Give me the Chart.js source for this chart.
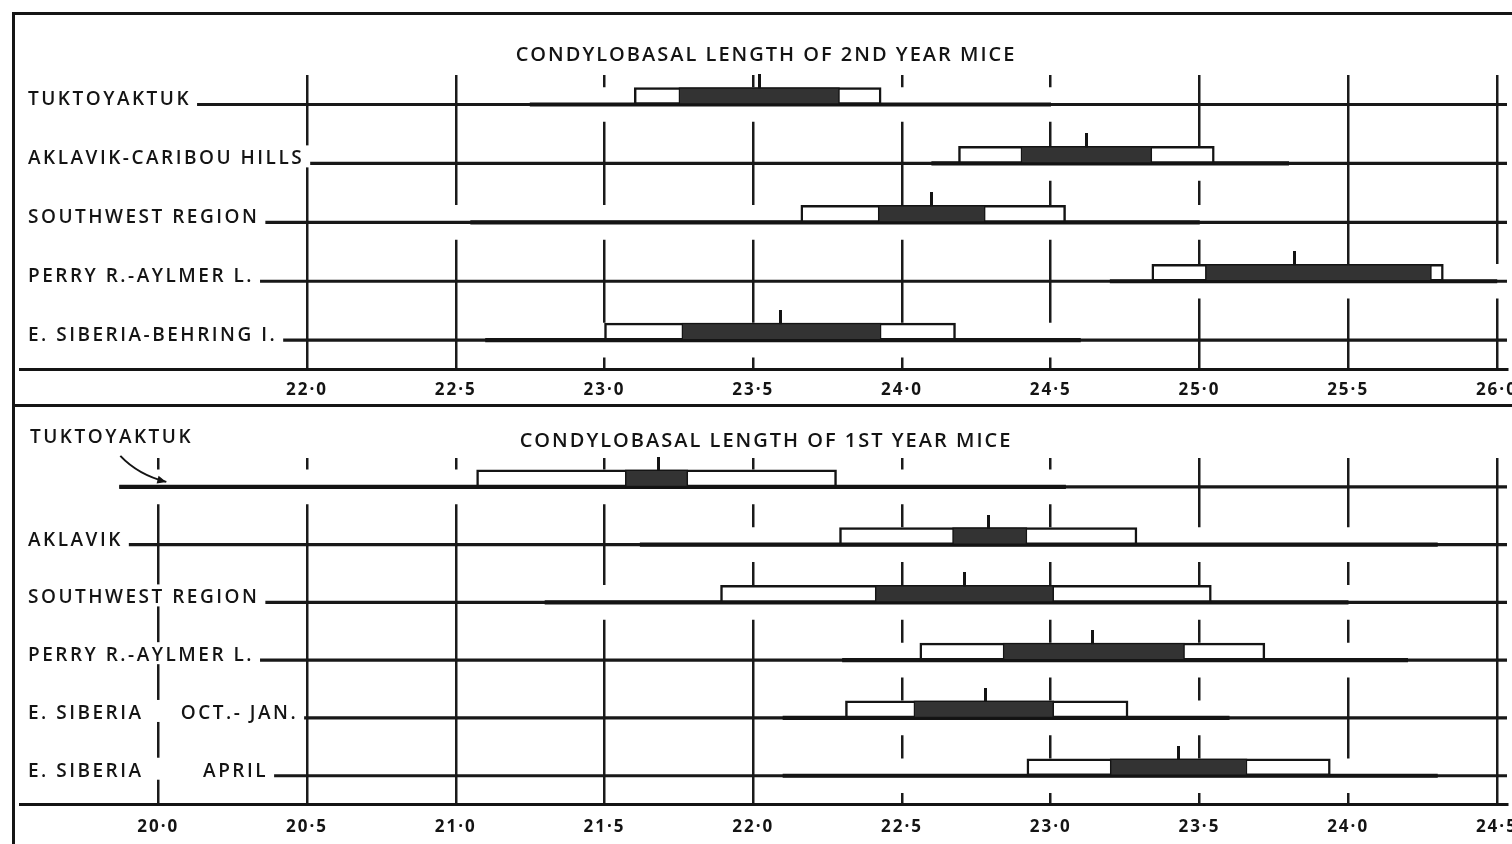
<!DOCTYPE html>
<html>
<head>
<meta charset="utf-8">
<script src="https://cdn.jsdelivr.net/npm/chart.js@4.4.1/dist/chart.umd.min.js"></script>
<style>
  html, body { margin: 0; padding: 0; background: #fff; }
  body { width: 1512px; height: 844px; position: relative; overflow: hidden; }
  .rule { position: absolute; background: #151515; }
  canvas { position: absolute; }
</style>
</head>
<body>
<div class="rule" style="left:12px;top:12px;width:1500px;height:3px"></div>
<div class="rule" style="left:12px;top:12px;width:3px;height:832px"></div>
<div class="rule" style="left:12px;top:404px;width:1500px;height:3px"></div>
<canvas id="second-year" width="1497" height="395" style="left:15px;top:15px"></canvas>
<canvas id="first-year" width="1497" height="442" style="left:15px;top:407px"></canvas>
<script>
// 2nd year mice (upper panel)
var SECOND_TITLE = "CONDYLOBASAL LENGTH OF 2ND YEAR MICE";
var SECOND_ROWS = ["TUKTOYAKTUK", "AKLAVIK-CARIBOU HILLS", "SOUTHWEST REGION", "PERRY R.-AYLMER L.", "E. SIBERIA-BEHRING I."];
var SECOND_TICKS = [22.0, 22.5, 23.0, 23.5, 24.0, 24.5, 25.0, 25.5, 26.0];
var SECOND_X_MIN = 21.035;
var SECOND_X_MAX = 26.034;
var SECOND_RANGE_LO = [22.75, 24.1, 22.55, 24.7, 22.6];
var SECOND_RANGE_HI = [24.5, 25.3, 25.0, 26.0, 24.6];
var SECOND_SD_LO = [23.10, 24.19, 23.66, 24.84, 23.00];
var SECOND_SD_HI = [23.93, 25.05, 24.55, 25.82, 24.18];
var SECOND_SE_LO = [23.25, 24.40, 23.92, 25.02, 23.26];
var SECOND_SE_HI = [23.79, 24.84, 24.28, 25.78, 23.93];
var SECOND_MEAN = [23.52, 24.62, 24.10, 25.32, 23.59];

// 1st year mice (lower panel)
var FIRST_TITLE = "CONDYLOBASAL LENGTH OF 1ST YEAR MICE";
var FIRST_ROWS = ["TUKTOYAKTUK", "AKLAVIK", "SOUTHWEST REGION", "PERRY R.-AYLMER L.", "E. SIBERIA     OCT.- JAN.", "E. SIBERIA        APRIL"];
var FIRST_TICKS = [20.0, 20.5, 21.0, 21.5, 22.0, 22.5, 23.0, 23.5, 24.0, 24.5];
var FIRST_X_MIN = 19.535;
var FIRST_X_MAX = 24.534;
var FIRST_RANGE_LO = [19.87, 21.62, 21.30, 22.30, 22.10, 22.10];
var FIRST_RANGE_HI = [23.05, 24.30, 24.00, 24.20, 23.60, 24.30];
var FIRST_SD_LO = [21.07, 22.29, 21.89, 22.56, 22.31, 22.92];
var FIRST_SD_HI = [22.28, 23.29, 23.54, 23.72, 23.26, 23.94];
var FIRST_SE_LO = [21.57, 22.67, 22.41, 22.84, 22.54, 23.20];
var FIRST_SE_HI = [21.78, 22.92, 23.01, 23.45, 23.01, 23.66];
var FIRST_MEAN = [21.68, 22.79, 22.71, 23.14, 22.78, 23.43];

var INK = "#141414";
var FONT = '"Open Sans", "DejaVu Sans", sans-serif';
var GAP = 0.08; // white gap left in the grid round each range

function pairs(lo, hi) {
  return lo.map(function (v, i) { return [v, hi[i]]; });
}

function meanTick() {
  // short upright stroke standing on top of the box
  var c = document.createElement("canvas");
  c.width = 3;
  c.height = 60;
  var g = c.getContext("2d");
  g.fillStyle = INK;
  g.fillRect(0, 0, 3, 14);
  return c;
}

var spacing = {
  id: "spacing",
  beforeUpdate: function (chart) { chart.ctx.letterSpacing = "2px"; },
  beforeDraw: function (chart) { chart.ctx.letterSpacing = "2px"; }
};

var rowLabels = {
  id: "rowLabels",
  afterDatasetsDraw: function (chart, args, opts) {
    var ctx = chart.ctx;
    var xs = chart.scales.x;
    var ys = chart.scales.y;
    var left = chart.chartArea.left;
    ctx.save();
    ctx.letterSpacing = "2.5px";
    ctx.font = "600 19px " + FONT;
    ctx.textBaseline = "alphabetic";
    chart.data.labels.forEach(function (label, i) {
      var py = ys.getPixelForValue(i);
      if (i === opts.arrowRow) {
        ctx.fillStyle = INK;
        ctx.fillText(label, left + 10, chart.chartArea.top - 15);
        var tipX = xs.getPixelForValue(xs.ticks[0].value) + 8;
        var tipY = py - 5;
        var sx = tipX - 46, sy = py - 31;
        var cx = tipX - 28, cy = py - 12;
        ctx.strokeStyle = INK;
        ctx.lineWidth = 2;
        ctx.beginPath();
        ctx.moveTo(sx, sy);
        ctx.quadraticCurveTo(cx, cy, tipX, tipY);
        ctx.stroke();
        var a = Math.atan2(tipY - cy, tipX - cx);
        ctx.beginPath();
        ctx.moveTo(tipX, tipY);
        ctx.lineTo(tipX - 9 * Math.cos(a) + 4 * Math.sin(a), tipY - 9 * Math.sin(a) - 4 * Math.cos(a));
        ctx.lineTo(tipX - 9 * Math.cos(a) - 4 * Math.sin(a), tipY - 9 * Math.sin(a) + 4 * Math.cos(a));
        ctx.closePath();
        ctx.fillStyle = INK;
        ctx.fill();
        return;
      }
      var w = ctx.measureText(label).width;
      ctx.fillStyle = "#fff";
      ctx.fillRect(left, py - 18, 8 + w + 6, 22);
      ctx.fillStyle = INK;
      ctx.fillText(label, left + 8, py + 1);
    });
    ctx.restore();
  }
};

function drawPanel(id, p) {
  var base = p.rows.map(function (r, i) {
    return [i === p.arrowRow ? p.rangeLo[i] : p.xMin, p.xMax];
  });
  var halo = p.rangeLo.map(function (v, i) { return [v - GAP, p.rangeHi[i] + GAP]; });

  return new Chart(document.getElementById(id), {
    type: "bar",
    data: {
      labels: p.rows,
      datasets: [
        { label: "gap", data: halo, backgroundColor: "#fff", grouped: false, barThickness: 34, order: 6 },
        { label: "line", data: base, backgroundColor: "#181818", grouped: false, barThickness: 2.5, order: 5 },
        { label: "range", data: pairs(p.rangeLo, p.rangeHi), backgroundColor: INK, grouped: false, barThickness: 3.5, order: 4 },
        { label: "sd", data: pairs(p.sdLo, p.sdHi), backgroundColor: "#fff", borderColor: INK, borderWidth: 2.5,
          borderSkipped: false, stack: "upper", barThickness: 17, order: 3 },
        { label: "se", data: pairs(p.seLo, p.seHi), backgroundColor: "#333", borderColor: INK, borderWidth: 1.5,
          borderSkipped: false, stack: "upper", barThickness: 17, order: 2 },
        { label: "pad", data: p.rows.map(function () { return null; }), stack: "lower", barThickness: 17, order: 20 },
        { type: "line", label: "mean", data: p.mean, indexAxis: "y", showLine: false,
          pointStyle: meanTick(), pointRadius: 3, order: 1 }
      ]
    },
    options: {
      indexAxis: "y",
      responsive: false,
      devicePixelRatio: 1,
      animation: false,
      layout: { padding: { left: 5, right: 0, top: 0, bottom: 0 } },
      plugins: {
        legend: { display: false },
        tooltip: { enabled: false },
        title: {
          display: true,
          text: p.title,
          color: INK,
          font: { family: FONT, size: 20, weight: "600" },
          padding: { top: p.titleTop, bottom: p.titleBottom }
        },
        rowLabels: { arrowRow: p.arrowRow }
      },
      scales: {
        x: {
          type: "linear",
          min: p.xMin,
          max: p.xMax,
          stacked: false,
          afterBuildTicks: function (scale) {
            scale.ticks = p.ticks.map(function (v) { return { value: v }; });
          },
          afterFit: function (scale) {
            scale.paddingLeft = 0;
            scale.paddingRight = 0;
          },
          grid: { color: "#1a1a1a", lineWidth: 2.5, drawTicks: false },
          border: { display: true, color: INK, width: 3 },
          ticks: {
            color: INK,
            padding: p.tickPad,
            maxRotation: 0,
            autoSkip: false,
            font: { family: FONT, size: 17, weight: "700" },
            callback: function (v) { return Number(v).toFixed(1).replace(".", "\u00b7"); }
          }
        },
        y: { type: "category", display: false, offset: true }
      }
    },
    plugins: [spacing, rowLabels]
  });
}

drawPanel("second-year", {
  title: SECOND_TITLE, rows: SECOND_ROWS, ticks: SECOND_TICKS, xMin: SECOND_X_MIN, xMax: SECOND_X_MAX,
  rangeLo: SECOND_RANGE_LO, rangeHi: SECOND_RANGE_HI, sdLo: SECOND_SD_LO, sdHi: SECOND_SD_HI,
  seLo: SECOND_SE_LO, seHi: SECOND_SE_HI, mean: SECOND_MEAN,
  arrowRow: -1, titleTop: 28.5, titleBottom: 7.5, tickPad: 10
});

drawPanel("first-year", {
  title: FIRST_TITLE, rows: FIRST_ROWS, ticks: FIRST_TICKS, xMin: FIRST_X_MIN, xMax: FIRST_X_MAX,
  rangeLo: FIRST_RANGE_LO, rangeHi: FIRST_RANGE_HI, sdLo: FIRST_SD_LO, sdHi: FIRST_SD_HI,
  seLo: FIRST_SE_LO, seHi: FIRST_SE_HI, mean: FIRST_MEAN,
  arrowRow: 0, titleTop: 22.5, titleBottom: 4.5, tickPad: 12
});
</script>
</body>
</html>
